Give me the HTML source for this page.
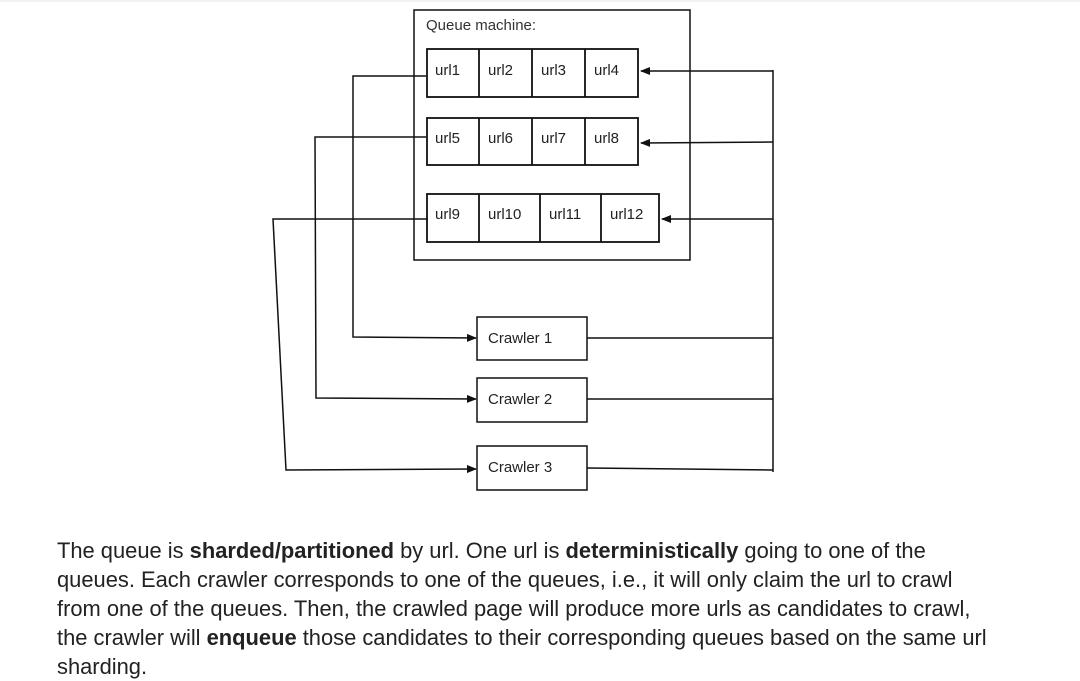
<!DOCTYPE html>
<html><head><style>
body{margin:0;width:1080px;height:676px;background:#fff;overflow:hidden;position:relative;font-family:"Liberation Sans",sans-serif}
svg{position:absolute;left:0;top:0}
p{position:absolute;left:57px;top:536px;margin:0;white-space:nowrap;font-size:21.9px;line-height:29px;color:#222}
</style></head><body>
<svg width="1080" height="520" viewBox="0 0 1080 520" font-family="Liberation Sans, sans-serif" font-size="15" fill="none" stroke="#111" stroke-width="1.5">
<defs><marker id="a" markerWidth="10" markerHeight="8" refX="9" refY="4" orient="auto" markerUnits="userSpaceOnUse"><path d="M0,0L10,4L0,8z" fill="#111" stroke="none"/></marker></defs>
<line x1="0" y1="1" x2="1080" y2="1" stroke="#eee"/>
<rect x="414" y="10" width="276" height="250"/>
<text x="426" y="30" fill="#333" stroke="none">Queue machine:</text>
<g stroke-width="1.8">
<rect x="427" y="49" width="211" height="48"/><line x1="479" y1="49" x2="479" y2="97"/><line x1="532" y1="49" x2="532" y2="97"/><line x1="585" y1="49" x2="585" y2="97"/>
<rect x="427" y="118" width="211" height="47"/><line x1="479" y1="118" x2="479" y2="165"/><line x1="532" y1="118" x2="532" y2="165"/><line x1="585" y1="118" x2="585" y2="165"/>
<rect x="427" y="194" width="232" height="48"/><line x1="479" y1="194" x2="479" y2="242"/><line x1="540" y1="194" x2="540" y2="242"/><line x1="601" y1="194" x2="601" y2="242"/>
</g>
<g fill="#222" stroke="none">
<text x="435" y="75">url1</text><text x="488" y="75">url2</text><text x="541" y="75">url3</text><text x="594" y="75">url4</text>
<text x="435" y="143">url5</text><text x="488" y="143">url6</text><text x="541" y="143">url7</text><text x="594" y="143">url8</text>
<text x="435" y="219">url9</text><text x="488" y="219">url10</text><text x="549" y="219">url11</text><text x="610" y="219">url12</text>
</g>
<rect x="477" y="317" width="110" height="43"/><rect x="477" y="378" width="110" height="44"/><rect x="477" y="446" width="110" height="44"/>
<g fill="#222" stroke="none"><text x="488" y="343">Crawler 1</text><text x="488" y="404">Crawler 2</text><text x="488" y="472">Crawler 3</text></g>
<polyline points="426,76 353,76 353,337 476,338" marker-end="url(#a)"/>
<polyline points="426,137 315,137 316,398 476,399" marker-end="url(#a)"/>
<polyline points="428,219 273,219 286,470 476,469" marker-end="url(#a)"/>
<line x1="773" y1="70" x2="773" y2="472"/>
<line x1="587" y1="338" x2="773" y2="338"/><line x1="587" y1="399" x2="773" y2="399"/><line x1="587" y1="468" x2="773" y2="470"/>
<line x1="773" y1="71" x2="641" y2="71" marker-end="url(#a)"/>
<line x1="773" y1="142" x2="641" y2="143" marker-end="url(#a)"/>
<line x1="773" y1="219" x2="662" y2="219" marker-end="url(#a)"/>
</svg>
<p>The queue is <b>sharded/partitioned</b> by url. One url is <b>deterministically</b> going to one of the<br>queues. Each crawler corresponds to one of the queues, i.e., it will only claim the url to crawl<br>from one of the queues. Then, the crawled page will produce more urls as candidates to crawl,<br>the crawler will <b>enqueue</b> those candidates to their corresponding queues based on the same url<br>sharding.</p>
</body></html>
